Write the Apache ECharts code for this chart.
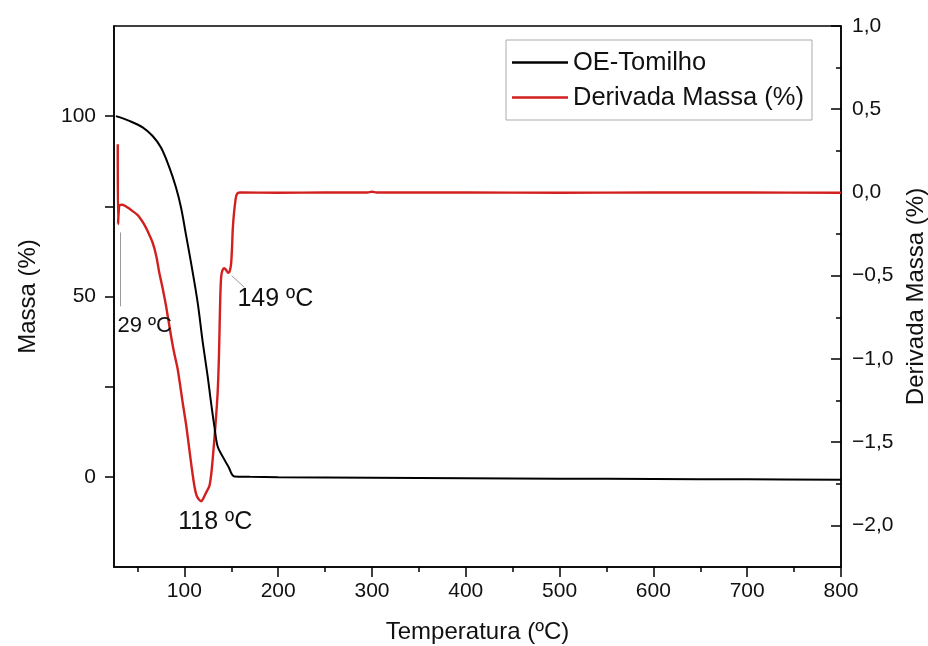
<!DOCTYPE html>
<html>
<head>
<meta charset="utf-8">
<title>OE-Tomilho TGA / DTG</title>
<script src="https://cdn.jsdelivr.net/npm/echarts@6/dist/echarts.min.js"></script>
<style>
  html, body { margin: 0; padding: 0; background: #fff; }
  #chart { width: 928px; height: 646px; }
</style>
</head>
<body>
<div id="chart"></div>
<script>
// Mass loss curve (TGA), left axis: temperature (ºC) and mass (%)
const massTemp = [27, 41.3, 55.5, 66.2, 75.1, 84, 91.1, 96.5, 101.8, 107.1, 114.2, 119.5,
  124.9, 128, 132, 135.5, 140.9, 147, 153.4, 170, 200, 300, 400, 500, 600, 700, 800];
const massValue = [100, 98.7, 96.9, 94.5, 91.3, 85.8, 80.2, 74.6, 67.0, 59.4, 48.3, 37.5,
  27.8, 21.5, 14.0, 8.4, 5.6, 2.8, 0.1, 0.0, -0.1, -0.25, -0.4, -0.5, -0.6, -0.7, -0.8];

// Derivative curve (DTG), right axis: temperature (ºC) and derivative (%)
const derivTemp = [29, 29.3, 31, 34, 36, 40, 44.8, 50, 53.8, 57, 60.8, 66.2, 70, 73.3, 77, 80.5,
  85.8, 89, 92.9, 98.2, 102, 105.3, 108, 110.7, 113, 115.3, 118, 120.5, 123.2, 126.7, 128.5,
  130.2, 133.1, 135.5, 136.8, 137.6, 138.3, 139.2, 140.5, 142.5, 144.5, 146.5, 148, 149.8,
  150.9, 151.6, 153, 155.2, 157, 160, 200, 250, 295, 300, 305, 400, 500, 600, 700, 800];
const derivValue = [0.29, -0.19, -0.075, -0.074, -0.078, -0.092, -0.112, -0.135, -0.162, -0.19, -0.232, -0.302, -0.38, -0.482, -0.58, -0.682,
  -0.862, -0.96, -1.062, -1.262, -1.40, -1.543, -1.66, -1.763, -1.82, -1.843, -1.855, -1.835, -1.803, -1.763, -1.70,
  -1.603, -1.403, -1.202, -1.00, -0.80, -0.63, -0.51, -0.47, -0.455, -0.465, -0.482, -0.478, -0.43,
  -0.322, -0.222, -0.12, -0.022, -0.003, 0.0, -0.002, 0.0, 0.0, 0.004, 0.0, 0.0, -0.002, 0.0, 0.0, -0.002];

// Axis ticks and labels
const tempMajor = [100, 200, 300, 400, 500, 600, 700, 800];
const tempMinor = [50, 150, 250, 350, 450, 550, 650, 750];
const massTicks = [0, 25, 50, 75, 100];
const massLabels = [0, 50, 100];
const derivMajor = [-2.0, -1.5, -1.0, -0.5, 0.0, 0.5, 1.0];
const derivMinor = [-1.75, -1.25, -0.75, -0.25, 0.25, 0.75];

// Peak annotations: [temperature, text]
const peakSpike = [29, '29 ºC'];
const peakMain = [118, '118 ºC'];
const peakShoulder = [149, '149 ºC'];

const FONT = 'Liberation Sans, Arial, sans-serif';
const RED = '#d21f1f';

function zip(a, b) { return a.map((v, i) => [v, b[i]]); }
function derivAt(t) {
  let best = 0;
  for (let i = 0; i < derivTemp.length; i++) {
    if (Math.abs(derivTemp[i] - t) < Math.abs(derivTemp[best] - t)) best = i;
  }
  return derivValue[best];
}
function commaFmt(v) {
  return v.toFixed(1).replace('.', ',').replace('-', '\u2212');
}

const chart = echarts.init(document.getElementById('chart'), null, { renderer: 'canvas' });

const axisTextStyle = { color: '#111', fontFamily: FONT, fontSize: 21 };
const tickLine = { color: '#000', width: 1.5 };

const option = {
  animation: false,
  backgroundColor: '#fff',
  grid: {
    left: 114, right: 87, top: 26, bottom: 79,
    outerBoundsMode: 'none', containLabel: false,
    show: true, borderColor: '#000', borderWidth: 1.5, backgroundColor: 'transparent'
  },
  legend: {
    orient: 'vertical',
    left: 506, top: 40,
    padding: [9, 8, 9, 6],
    itemGap: 8,
    icon: 'rect',
    itemWidth: 56, itemHeight: 2.4,
    borderColor: '#aaa', borderWidth: 1,
    textStyle: { color: '#111', fontFamily: FONT, fontSize: 25.5, lineHeight: 27 },
    data: ['OE-Tomilho', 'Derivada Massa (%)']
  },
  xAxis: [
    {
      type: 'value', min: 25, max: 800, position: 'bottom',
      name: 'Temperatura (ºC)', nameLocation: 'middle', nameGap: 53,
      nameTextStyle: { color: '#111', fontFamily: FONT, fontSize: 24 },
      axisLine: { show: true, onZero: false, lineStyle: { color: '#000', width: 1.5 } },
      axisTick: { show: true, inside: false, length: 10, customValues: tempMajor, lineStyle: tickLine },
      axisLabel: Object.assign({ margin: 14, customValues: tempMajor }, axisTextStyle),
      splitLine: { show: false }
    },
    {
      type: 'value', min: 25, max: 800, position: 'bottom',
      axisLine: { show: false, onZero: false },
      axisTick: { show: true, inside: false, length: 5, customValues: tempMinor, lineStyle: tickLine },
      axisLabel: { show: false },
      splitLine: { show: false }
    }
  ],
  yAxis: [
    {
      type: 'value', min: -25, max: 125, position: 'left',
      name: 'Massa (%)', nameLocation: 'middle', nameGap: 74, nameRotate: 90,
      nameTextStyle: { color: '#111', fontFamily: FONT, fontSize: 24 },
      axisLine: { show: true, onZero: false, lineStyle: { color: '#000', width: 1.5 } },
      axisTick: { show: true, inside: false, length: 9, customValues: massTicks, lineStyle: tickLine },
      axisLabel: Object.assign({ margin: 18, customValues: massLabels }, axisTextStyle),
      splitLine: { show: false }
    },
    {
      type: 'value', min: -2.25, max: 1.0, position: 'right',
      name: 'Derivada Massa (%)', nameLocation: 'middle', nameGap: 60, nameRotate: 90,
      nameTextStyle: { color: '#111', fontFamily: FONT, fontSize: 24 },
      axisLine: { show: true, onZero: false, lineStyle: { color: '#000', width: 1.5 } },
      axisTick: { show: true, inside: true, length: 10, customValues: derivMajor, lineStyle: tickLine },
      axisLabel: Object.assign({ margin: 11, customValues: derivMajor, formatter: commaFmt }, axisTextStyle),
      splitLine: { show: false }
    },
    {
      type: 'value', min: -2.25, max: 1.0, position: 'right',
      axisLine: { show: false, onZero: false },
      axisTick: { show: true, inside: true, length: 5, customValues: derivMinor, lineStyle: tickLine },
      axisLabel: { show: false },
      splitLine: { show: false }
    }
  ],
  series: [
    {
      name: 'OE-Tomilho', type: 'line', xAxisIndex: 0, yAxisIndex: 0,
      data: zip(massTemp, massValue), symbol: 'none', smooth: 0.35,
      lineStyle: { color: '#000', width: 2 }, itemStyle: { color: '#000' }, z: 3
    },
    {
      name: 'Derivada Massa (%)', type: 'line', xAxisIndex: 0, yAxisIndex: 1,
      data: zip(derivTemp, derivValue), symbol: 'none', smooth: 0.25,
      lineStyle: { color: RED, width: 2.4 }, itemStyle: { color: RED }, z: 2,
      markLine: {
        silent: true, symbol: 'none', animation: false,
        lineStyle: { color: '#999', width: 1, type: 'solid' },
        label: { show: false },
        data: [
          [{ coord: [peakSpike[0] + 2.5, -0.24] }, { coord: [peakSpike[0] + 2.5, -0.684] }],
          [{ coord: [peakShoulder[0] + 1.5, -0.50] }, { coord: [peakShoulder[0] + 15, -0.57] }]
        ]
      },
      markPoint: {
        silent: true, symbol: 'circle', symbolSize: 0, animation: false,
        data: [
          { coord: [peakSpike[0], derivAt(peakSpike[0])],
            label: { show: true, formatter: peakSpike[1], position: 'inside', offset: [27, 182], color: '#111', fontFamily: FONT, fontSize: 22 } },
          { coord: [peakMain[0], derivAt(peakMain[0])],
            label: { show: true, formatter: peakMain[1], position: 'inside', offset: [14, 21], color: '#111', fontFamily: FONT, fontSize: 25 } },
          { coord: [peakShoulder[0], derivAt(peakShoulder[0])],
            label: { show: true, formatter: peakShoulder[1], position: 'inside', offset: [45, 35], color: '#111', fontFamily: FONT, fontSize: 25 } }
        ]
      }
    }
  ]
};

chart.setOption(option);
</script>
</body>
</html>
